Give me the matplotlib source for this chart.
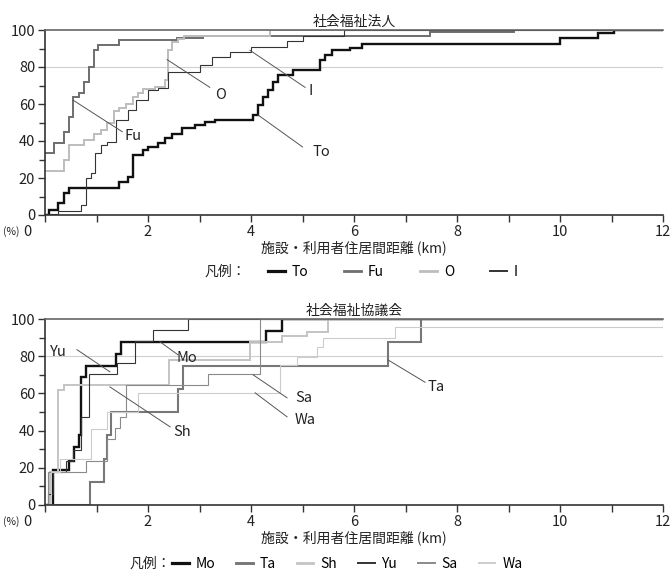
import numpy as np
import matplotlib.pyplot as plt
from matplotlib.lines import Line2D

plt.rcParams['font.family'] = ['Noto Sans CJK JP', 'DejaVu Sans']

# ---- 社会福祉法人 (km, cumulative %) ----
to_x = [0, 0.07, 0.26, 0.36, 0.46, 1.44, 1.61, 1.70, 1.90, 2.0, 2.2, 2.33, 2.46, 2.66, 2.92, 3.11, 3.31,
        4.03, 4.13, 4.23, 4.33, 4.43, 4.52, 4.82, 5.34, 5.44, 5.57, 5.92, 6.15, 10.0, 10.73, 11.05]
to_y = [0, 2.7, 6.3, 11.7, 14.4, 18, 20.7, 32.4, 35, 36.9, 38.7, 41.4, 44, 46.8, 48.6, 50.5, 51.3,
        54, 59.5, 64, 67.6, 72, 75.7, 78.4, 83.8, 86.5, 89, 90.5, 92.5, 95.8, 98.5, 100]
fu_x = [0, 0.17, 0.36, 0.46, 0.55, 0.66, 0.75, 0.85, 0.95, 1.02, 1.44, 2.56, 3.07, 7.48, 9.1]
fu_y = [33.7, 38.7, 45, 53, 64, 66, 72, 80, 89, 92, 94.4, 95.5, 96.5, 98.8, 100]
o_x = [0, 0.36, 0.46, 0.75, 0.95, 1.08, 1.21, 1.34, 1.44, 1.57, 1.7, 1.8, 1.9, 2.13, 2.33, 2.39, 2.46, 2.59, 2.7, 4.37]
o_y = [24, 29.7, 37.8, 40.5, 44, 46, 49.5, 56, 57.7, 60, 64, 65.8, 68, 69, 73, 89, 93.7, 95, 96.5, 100]
i_x = [0, 0.26, 0.69, 0.79, 0.89, 0.98, 1.08, 1.21, 1.38, 1.61, 1.77, 2.0, 2.2, 2.39, 3.0, 3.25, 3.6, 4.0, 4.7, 5.0, 5.8]
i_y = [0.5, 2.3, 5.4, 19.8, 22.5, 33.3, 37.8, 39.6, 51.4, 56.8, 62, 67.6, 68.5, 77.5, 81, 85.6, 88.3, 91, 94, 96.5, 100]

# ---- 社会福祉協議会 ----
mo_x = [0, 0.16, 0.46, 0.56, 0.66, 0.69, 0.79, 1.38, 1.48, 4.3, 4.6]
mo_y = [0, 18.8, 23.5, 31.3, 37.5, 68.8, 75, 81.3, 87.5, 93.8, 100]
ta_x = [0, 0.87, 1.15, 1.2, 1.28, 2.58, 2.68, 6.66, 7.31]
ta_y = [0, 12.5, 25, 37.5, 50, 62.5, 75, 87.5, 100]
sh_x = [0, 0.1, 0.26, 0.36, 2.4, 3.98, 4.6, 5.08, 5.5]
sh_y = [0, 17.6, 61.8, 64.7, 77.7, 87.6, 90.6, 93, 100]
yu_x = [0, 0.05, 0.16, 0.4, 0.55, 0.7, 0.85, 1.4, 1.75, 2.1, 2.78]
yu_y = [0, 5.9, 17.6, 23.5, 29.4, 47.1, 70.6, 76.5, 88.2, 94.1, 100]
sa_x = [0, 0.05, 0.8, 1.2, 1.35, 1.45, 1.57, 3.17, 4.17]
sa_y = [0, 17.6, 23.5, 35.3, 41.2, 47.1, 64.7, 70.6, 100]
wa_x = [0, 0.12, 0.3, 0.9, 1.2, 1.8, 4.57, 4.89, 5.28, 5.4, 6.8, 12.0]
wa_y = [0, 17.6, 25, 41, 50, 60.3, 75.4, 79.5, 85, 90, 95.6, 100]

top_series = [('To', to_x, to_y, '#111111', 1.7), ('Fu', fu_x, fu_y, '#6e6e6e', 1.4),
              ('O', o_x, o_y, '#bdbdbd', 1.4), ('I', i_x, i_y, '#333333', 0.8)]
bot_series = [('Mo', mo_x, mo_y, '#111111', 1.7), ('Ta', ta_x, ta_y, '#777777', 1.5),
              ('Sh', sh_x, sh_y, '#c4c4c4', 1.4), ('Yu', yu_x, yu_y, '#333333', 0.8),
              ('Sa', sa_x, sa_y, '#8a8a8a', 0.8), ('Wa', wa_x, wa_y, '#cccccc', 0.8)]

# leader labels: (text, line start, line end, text pos)
top_notes = [('Fu', (0.55, 62), (1.5, 45), (1.55, 42.5)),
             ('O', (2.37, 84), (3.2, 69), (3.3, 65)),
             ('I', (3.98, 89), (5.05, 69), (5.12, 67)),
             ('To', (4.14, 54), (5.0, 36.8), (5.2, 34))]
bot_notes = [('Yu', (1.26, 71.6), (0.62, 83.5), (0.1, 82)),
             ('Mo', (2.23, 87.8), (2.58, 80.8), (2.55, 79)),
             ('Sh', (1.26, 63.5), (2.43, 42), (2.5, 39)),
             ('Sa', (4.04, 70), (4.7, 57.6), (4.85, 57.5)),
             ('Wa', (4.08, 60.3), (4.7, 47.4), (4.85, 45.5)),
             ('Ta', (6.66, 78), (7.38, 66), (7.42, 63.5))]

fig = plt.figure(figsize=(6.71, 5.77), dpi=100)
W, H = 671, 577


def setup(ax, title, series, notes):
    for name, x, y, c, lw in series:
        xs = list(x) + [12]
        ys = list(y) + [y[-1]]
        ax.plot(xs, ys, drawstyle='steps-post', color=c, lw=lw, solid_joinstyle='miter')
    ax.axhline(80, color='#cfcfcf', lw=0.8, zorder=0)
    for t, p0, p1, pt in notes:
        ax.plot([p0[0], p1[0]], [p0[1], p1[1]], color='#555555', lw=0.7)
        ax.text(pt[0], pt[1], t, fontsize=10.5, color='#222222', va='center', ha='left')
    ax.set_xlim(0, 12)
    ax.set_ylim(0, 100)
    ax.set_xticks(np.arange(0, 13, 1))
    ax.set_xticklabels(['' if (v % 2 or v == 0) else str(v) for v in range(13)])
    ax.set_yticks(np.arange(0, 101, 20))
    ax.set_yticks(np.arange(0, 101, 10), minor=True)
    ax.tick_params(axis='both', direction='out', length=5, width=1, color='#333333',
                   labelsize=10.5, labelcolor='#222222', pad=2)
    ax.tick_params(axis='y', which='minor', length=4, width=1, color='#333333')
    for s in ['left', 'bottom']:
        ax.spines[s].set_color('#333333')
        ax.spines[s].set_linewidth(1.2)
    ax.spines['top'].set_color('#666666')
    ax.spines['top'].set_linewidth(1.2)
    ax.spines['right'].set_visible(False)
    ax.set_title(title, fontsize=10, color='#222222', pad=3, loc='center')
    ax.set_xlabel('施設・利用者住居間距離 (km)', fontsize=10, color='#222222', labelpad=1)


ax1 = fig.add_axes([45 / W, 1 - 215 / H, 618 / W, 185 / H])
setup(ax1, '社会福祉法人', top_series, top_notes)
ax2 = fig.add_axes([45 / W, 1 - 505 / H, 618 / W, 186 / H])
setup(ax2, '社会福祉協議会', bot_series, bot_notes)

# "(%) 0" under the y axis
for ybase in (232, 522):
    fig.text(3 / W, 1 - ybase / H, '(%)', fontsize=7.5, color='#222222', va='center')
    fig.text(27 / W, 1 - ybase / H, '0', fontsize=10.5, color='#222222', va='center', ha='center')


# legends
def legend(series, x0, y, lab_x, spacing):
    fig.text(lab_x / W, 1 - y / H, '凡例：', fontsize=10, color='#222222', va='center')
    handles = [Line2D([], [], color=c, lw=lw + 0.6) for _, _, _, c, lw in series]
    names = [s[0] for s in series]
    fig.legend(handles, names, loc='center left', bbox_to_anchor=(x0 / W, 1 - y / H),
               ncol=len(series), frameon=False, fontsize=10, handlelength=1.2,
               handletextpad=0.5, columnspacing=spacing, borderpad=0, borderaxespad=0)


legend(top_series, 268, 272, 205, 2.6)
legend(bot_series, 172, 564, 130, 1.5)

fig.savefig('out.png', dpi=100)
